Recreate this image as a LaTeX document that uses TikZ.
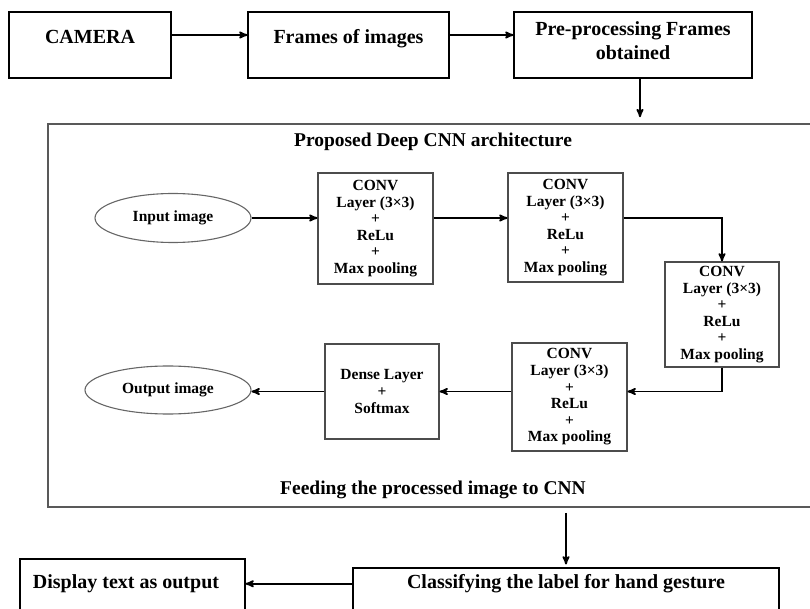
\documentclass[tikz,border=0pt]{standalone}
\usepackage{fontspec}
\setmainfont{Liberation Serif}
\usetikzlibrary{arrows,shapes.geometric}

\begin{document}
\begin{tikzpicture}[x=1pt,y=-1pt,>=stealth',
	font=\bfseries\fontsize{20}{24}\selectfont,
	topbox/.style={draw,line width=1.1pt,inner sep=0pt,minimum height=66pt},
	layer/.style={draw=black!70,line width=1.1pt,align=center,inner sep=0pt,minimum width=115pt,font=\bfseries\fontsize{15.5}{16.6}\selectfont},
	blob/.style={ellipse,draw=black!60,line width=1.1pt,inner sep=0pt,font=\bfseries\fontsize{15.5}{16.6}\selectfont},
	lbl/.style={inner sep=0pt,anchor=base},
	flow/.style={->,line width=1.8pt}]
	\useasboundingbox (0,0) rectangle (810,609);
	% top row
	\node[topbox,minimum width=162pt] (cam) at (90,45) {};
	\node[topbox,minimum width=201pt] (frm) at (348.5,45) {};
	\node[topbox,minimum width=238pt] (pre) at (633,45) {};
	\node[lbl] (camtxt) at (90,43.5) {CAMERA};
	\node[lbl] (frmtxt) at (348.5,43.5) {Frames of images};
	\node[inner sep=0pt,align=center] (pretxt) at (633,40.6) {Pre-processing Frames\\obtained};
	% cnn block
	\node[draw=black!65,line width=1.5pt,inner sep=0pt,minimum width=764pt,minimum height=383pt] (cnn) at (430,315.5) {};
	\node[lbl,font=\bfseries\fontsize{19.5}{24}\selectfont] (ttl) at (433,146.6) {Proposed Deep CNN architecture};
	\node[lbl,font=\bfseries\fontsize{19.5}{24}\selectfont] (feed) at (433,494.6) {Feeding the processed image to CNN};
	\node[blob,minimum width=156pt,minimum height=49pt] (inp) at (173,218) {Input image};
	\node[layer,minimum height=111pt] (c1) at (375.5,228.5) {CONV\\Layer (3×3)\\+\\ReLu\\+\\Max pooling};
	\node[layer,minimum height=109pt] (c2) at (565.5,227.5) {CONV\\Layer (3×3)\\+\\ReLu\\+\\Max pooling};
	\node[layer,minimum width=114pt,minimum height=105pt] (c3) at (722,314.5) {CONV\\Layer (3×3)\\+\\ReLu\\+\\Max pooling};
	\node[layer,minimum height=108pt] (c4) at (569.5,397) {CONV\\Layer (3×3)\\+\\ReLu\\+\\Max pooling};
	\node[layer,minimum width=114pt,minimum height=95pt] (dense) at (382,391.5) {Dense Layer\\+\\Softmax};
	\node[blob,minimum width=166pt,minimum height=48pt] (out) at (168,390) {Output image};
	% bottom row
	\node[topbox,minimum width=225pt] (disp) at (132.5,592) {};
	\node[topbox,minimum width=426pt] (cls) at (566,601) {};
	\node[lbl] (disptxt) at (126,588.6) {Display text as output};
	\node[lbl] (clstxt) at (566,588.6) {Classifying the label for hand gesture};
	% connectors
	\draw[flow] ([yshift=10pt]cam.east) -- ([yshift=10pt]frm.west);
	\draw[flow] ([yshift=10pt]frm.east) -- ([yshift=10pt]pre.west);
	\draw[flow,shorten >=6pt] ([xshift=7pt]pre.south) -- ([xshift=7pt]pre.south |- cnn.north);
	\draw[flow] (inp.east) -- (inp.east -| c1.west);
	\draw[flow] (c1.east |- inp.east) -- (c2.west |- inp.east);
	\draw[flow] (c2.east |- inp.east) -| (c3.north);
	\draw[flow] (c3.south) |- (c4.east |- dense.east);
	\draw[flow] (c4.west |- dense.east) -- (dense.east);
	\draw[flow] (dense.west) -- (dense.west -| out.east);
	\draw[flow,shorten <=5pt,shorten >=3pt] (cnn.south -| cls.north) -- (cls.north);
	\draw[flow] (cls.west |- clstxt.center) -- (disp.east |- clstxt.center);
\end{tikzpicture}
\end{document}
